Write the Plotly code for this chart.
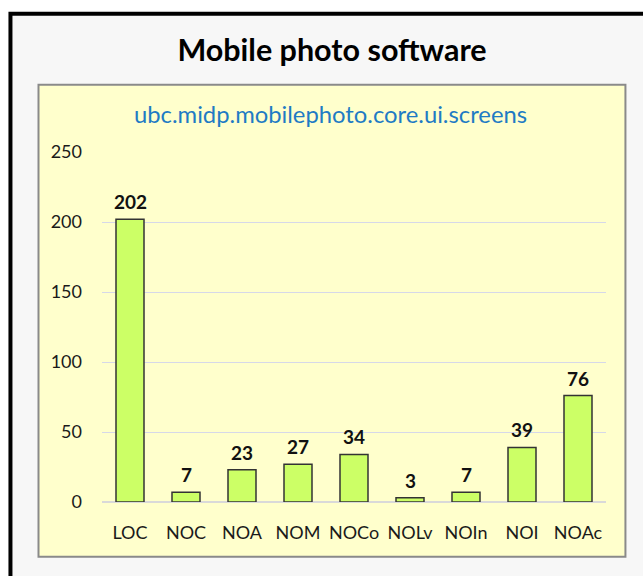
import plotly.graph_objects as go

categories = ["LOC", "NOC", "NOA", "NOM", "NOCo", "NOLv", "NOIn", "NOI", "NOAc"]
values = [202, 7, 23, 27, 34, 3, 7, 39, 76]
y_ticks = [0, 50, 100, 150, 200, 250]
title_text = "Mobile photo software"
subtitle_text = "ubc.midp.mobilephoto.core.ui.screens"

W, H = 643, 576
PL, PR, PT, PB = 102.4, 605.6, 151.7, 501.7  # plot area in pixels


def px_x(p):
    return (p - PL) / (PR - PL)


def px_y(p):
    return (PB - p) / (PB - PT)


FONT = "Lato, Open Sans, sans-serif"

fig = go.Figure()
fig.add_trace(go.Bar(
    x=categories,
    y=values,
    marker=dict(color="#ccff66", line=dict(color="#333333", width=1.5)),
    width=0.5,
    hoverinfo="x+y",
))

for c, v in zip(categories, values):
    fig.add_annotation(
        x=c, y=v, xref="x", yref="y",
        text=f"<b>{v}</b>", showarrow=False,
        yanchor="bottom", yshift=4,
        font=dict(family=FONT, size=19, color="#111111"),
    )

fig.add_annotation(
    x=px_x(331), y=px_y(114), xref="paper", yref="paper",
    text=subtitle_text, showarrow=False,
    xanchor="center", yanchor="middle",
    font=dict(family=FONT, size=23.8, color="#1f7bc4"),
)

shapes = [
    # outer frame
    dict(type="rect", xref="paper", yref="paper",
         x0=px_x(11), x1=px_x(720), y0=px_y(13.5), y1=px_y(650),
         line=dict(color="#000000", width=4), fillcolor="#f7f7f7", layer="below"),
    # inner yellow box
    dict(type="rect", xref="paper", yref="paper",
         x0=px_x(39), x1=px_x(625), y0=px_y(84.5), y1=px_y(556.5),
         line=dict(color="#8a8a8a", width=2), fillcolor="#ffffcc", layer="below"),
]

fig.update_layout(
    width=W, height=H,
    margin=dict(l=PL, r=W - PR, t=PT, b=H - PB, pad=0),
    paper_bgcolor="#ffffff",
    plot_bgcolor="rgba(0,0,0,0)",
    shapes=shapes,
    showlegend=False,
    bargap=0.5,
    title=dict(
        text=f"<b>{title_text}</b>",
        x=332 / W, xanchor="center",
        y=1 - 50 / H, yanchor="middle", yref="container",
        font=dict(family=FONT, size=30.5, color="#000000"),
    ),
    font=dict(family=FONT, size=17, color="#222222"),
    xaxis=dict(
        showgrid=False, showline=False, zeroline=False,
        ticks="", ticklabelstandoff=18,
        tickfont=dict(family=FONT, size=18, color="#1a1a1a"),
    ),
    yaxis=dict(
        range=[0, 250], tickvals=y_ticks,
        showgrid=True, gridcolor="#d6d8e8", gridwidth=1,
        zeroline=True, zerolinecolor="#d9d9d9", zerolinewidth=2,
        showline=False, ticks="", ticklabelstandoff=19,
        tickfont=dict(family=FONT, size=18, color="#1a1a1a"),
    ),
)

fig.write_html("out.html", post_script="document.body.style.margin='0px';",
               config={"displayModeBar": False})
